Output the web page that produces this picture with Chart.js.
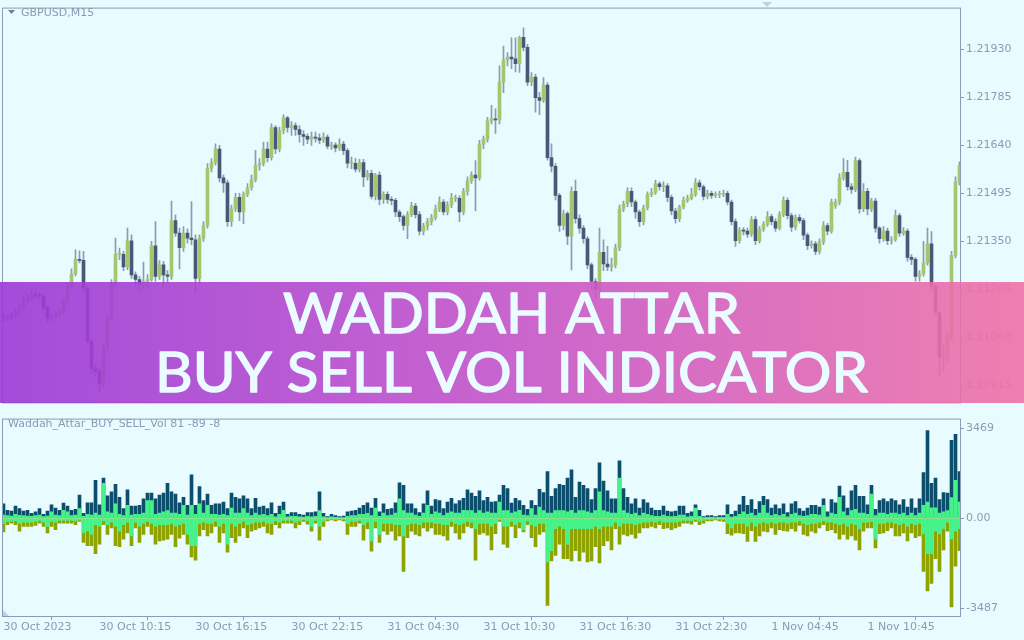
<!DOCTYPE html>
<html>
<head>
<meta charset="utf-8">
<script src="https://cdn.jsdelivr.net/npm/chart.js@4.4.1/dist/chart.umd.min.js"></script>
<style>
    html, body { margin: 0; padding: 0; width: 1024px; height: 640px; overflow: hidden; background: #e8fbff; }
    #priceChart { position: absolute; left: 0; top: 0; }
    #volChart { position: absolute; left: 0; top: 411px; }
</style>
</head>
<body>
<canvas id="priceChart" width="1024" height="411"></canvas>
<canvas id="volChart" width="1024" height="229"></canvas>
<script>
// GBPUSD M15 candles, 240 bars
const opens = [
1.21121,1.21118,1.21118,1.21127,1.21135,1.21150,1.21171,1.21179,1.21191,1.21188,
1.21185,1.21150,1.21118,1.21121,1.21127,1.21135,1.21171,1.21214,1.21252,1.21296,
1.21293,1.21209,1.21048,1.20966,1.20957,1.20922,1.21030,1.21118,1.21223,1.21311,
1.21311,1.21273,1.21352,1.21249,1.21235,1.21220,1.21229,1.21235,1.21337,1.21244,
1.21279,1.21249,1.21244,1.21413,1.21375,1.21331,1.21375,1.21360,1.21355,1.21238,
1.21360,1.21398,1.21571,1.21588,1.21629,1.21542,1.21527,1.21410,1.21448,1.21483,
1.21439,1.21492,1.21512,1.21536,1.21580,1.21586,1.21629,1.21603,1.21694,1.21629,
1.21685,1.21723,1.21694,1.21700,1.21688,1.21673,1.21667,1.21659,1.21665,1.21662,
1.21656,1.21665,1.21638,1.21641,1.21632,1.21644,1.21624,1.21586,1.21586,1.21568,
1.21588,1.21545,1.21556,1.21486,1.21550,1.21477,1.21492,1.21477,1.21474,1.21439,
1.21425,1.21398,1.21431,1.21457,1.21431,1.21381,1.21396,1.21410,1.21422,1.21448,
1.21469,1.21439,1.21460,1.21480,1.21480,1.21439,1.21501,1.21533,1.21550,1.21542,
1.21644,1.21659,1.21714,1.21720,1.21717,1.21831,1.21898,1.21907,1.21901,1.21887,
1.21966,1.21936,1.21831,1.21846,1.21784,1.21776,1.21822,1.21603,1.21577,1.21489,
1.21398,1.21434,1.21366,1.21501,1.21419,1.21390,1.21358,1.21279,1.21229,1.21206,
1.21317,1.21282,1.21273,1.21279,1.21331,1.21448,1.21463,1.21501,1.21469,1.21439,
1.21410,1.21451,1.21492,1.21498,1.21524,1.21515,1.21518,1.21483,1.21442,1.21419,
1.21454,1.21474,1.21480,1.21492,1.21527,1.21515,1.21486,1.21495,1.21489,1.21492,
1.21492,1.21495,1.21469,1.21410,1.21352,1.21384,1.21381,1.21372,1.21416,1.21352,
1.21387,1.21401,1.21425,1.21410,1.21390,1.21431,1.21474,1.21428,1.21393,1.21422,
1.21413,1.21369,1.21337,1.21343,1.21320,1.21349,1.21398,1.21381,1.21457,1.21469,
1.21542,1.21559,1.21515,1.21507,1.21594,1.21448,1.21501,1.21448,1.21472,1.21390,
1.21358,1.21381,1.21352,1.21355,1.21428,1.21375,1.21381,1.21302,1.21296,1.21244,
1.21252,1.21285,1.21343,1.21214,1.21135,1.21001,1.21001,1.21062,1.21308,1.21530];

const highs = [
1.21130,1.21127,1.21135,1.21144,1.21159,1.21182,1.21191,1.21203,1.21200,1.21197,
1.21191,1.21156,1.21133,1.21138,1.21147,1.21179,1.21226,1.21267,1.21325,1.21322,
1.21320,1.21215,1.21054,1.20975,1.20966,1.21040,1.21130,1.21235,1.21360,1.21330,
1.21320,1.21390,1.21370,1.21258,1.21245,1.21288,1.21250,1.21350,1.21410,1.21292,
1.21290,1.21262,1.21472,1.21430,1.21390,1.21395,1.21388,1.21470,1.21370,1.21370,
1.21410,1.21585,1.21600,1.21645,1.21640,1.21550,1.21535,1.21460,1.21495,1.21495,
1.21500,1.21525,1.21550,1.21625,1.21600,1.21650,1.21650,1.21705,1.21700,1.21695,
1.21732,1.21728,1.21712,1.21708,1.21700,1.21685,1.21675,1.21680,1.21680,1.21675,
1.21678,1.21672,1.21650,1.21648,1.21660,1.21652,1.21630,1.21605,1.21600,1.21598,
1.21598,1.21565,1.21565,1.21556,1.21560,1.21500,1.21500,1.21485,1.21480,1.21445,
1.21430,1.21440,1.21468,1.21465,1.21440,1.21405,1.21420,1.21432,1.21460,1.21485,
1.21476,1.21470,1.21495,1.21490,1.21488,1.21510,1.21545,1.21560,1.21594,1.21655,
1.21668,1.21725,1.21761,1.21750,1.21880,1.21940,1.21920,1.21965,1.21965,1.21970,
1.21995,1.21945,1.21860,1.21855,1.21800,1.21845,1.21830,1.21645,1.21585,1.21495,
1.21445,1.21440,1.21515,1.21535,1.21430,1.21398,1.21365,1.21285,1.21238,1.21390,
1.21355,1.21335,1.21300,1.21342,1.21460,1.21472,1.21512,1.21512,1.21475,1.21445,
1.21460,1.21500,1.21510,1.21535,1.21530,1.21530,1.21525,1.21490,1.21450,1.21460,
1.21485,1.21490,1.21510,1.21540,1.21535,1.21520,1.21505,1.21502,1.21500,1.21502,
1.21505,1.21502,1.21475,1.21418,1.21392,1.21392,1.21390,1.21425,1.21425,1.21395,
1.21410,1.21440,1.21432,1.21418,1.21440,1.21485,1.21482,1.21435,1.21430,1.21430,
1.21420,1.21375,1.21352,1.21350,1.21358,1.21410,1.21405,1.21478,1.21478,1.21555,
1.21600,1.21595,1.21525,1.21605,1.21600,1.21525,1.21510,1.21480,1.21480,1.21395,
1.21395,1.21390,1.21365,1.21445,1.21435,1.21392,1.21388,1.21310,1.21302,1.21262,
1.21350,1.21390,1.21380,1.21220,1.21140,1.21040,1.21075,1.21320,1.21545,1.21590];

const lows = [
1.21108,1.21109,1.21112,1.21121,1.21130,1.21144,1.21165,1.21173,1.21179,1.21176,
1.21141,1.21106,1.21109,1.21115,1.21121,1.21129,1.21165,1.21205,1.21246,1.21285,
1.21200,1.21036,1.20951,1.20940,1.20893,1.20910,1.21020,1.21110,1.21215,1.21295,
1.21262,1.21265,1.21238,1.21215,1.21200,1.21205,1.21212,1.21230,1.21230,1.21235,
1.21214,1.21225,1.21235,1.21365,1.21267,1.21320,1.21345,1.21340,1.21194,1.21225,
1.21350,1.21390,1.21560,1.21580,1.21530,1.21498,1.21395,1.21395,1.21440,1.21413,
1.21404,1.21485,1.21505,1.21530,1.21565,1.21578,1.21590,1.21595,1.21615,1.21620,
1.21675,1.21680,1.21670,1.21670,1.21650,1.21640,1.21645,1.21640,1.21650,1.21645,
1.21648,1.21630,1.21628,1.21620,1.21625,1.21612,1.21572,1.21570,1.21560,1.21560,
1.21515,1.21535,1.21478,1.21475,1.21460,1.21465,1.21465,1.21460,1.21425,1.21410,
1.21384,1.21358,1.21425,1.21420,1.21370,1.21370,1.21385,1.21400,1.21415,1.21440,
1.21430,1.21430,1.21452,1.21470,1.21410,1.21430,1.21490,1.21525,1.21442,1.21535,
1.21630,1.21650,1.21705,1.21676,1.21705,1.21799,1.21880,1.21872,1.21862,1.21860,
1.21925,1.21820,1.21820,1.21740,1.21733,1.21770,1.21595,1.21560,1.21475,1.21380,
1.21385,1.21340,1.21264,1.21405,1.21375,1.21345,1.21268,1.21205,1.21180,1.21195,
1.21262,1.21262,1.21260,1.21270,1.21322,1.21440,1.21455,1.21455,1.21420,1.21395,
1.21400,1.21445,1.21485,1.21492,1.21505,1.21500,1.21470,1.21430,1.21405,1.21410,
1.21448,1.21468,1.21475,1.21486,1.21505,1.21475,1.21478,1.21480,1.21482,1.21482,
1.21485,1.21460,1.21400,1.21335,1.21345,1.21370,1.21362,1.21365,1.21340,1.21345,
1.21380,1.21395,1.21400,1.21380,1.21385,1.21425,1.21418,1.21380,1.21385,1.21405,
1.21355,1.21325,1.21330,1.21310,1.21312,1.21340,1.21370,1.21375,1.21450,1.21460,
1.21535,1.21505,1.21495,1.21500,1.21435,1.21440,1.21430,1.21440,1.21378,1.21345,
1.21350,1.21340,1.21342,1.21350,1.21365,1.21368,1.21290,1.21280,1.21230,1.21230,
1.21245,1.21278,1.21205,1.21125,1.20943,1.20960,1.20985,1.21050,1.21300,1.21520];

const closes = [
1.21118,1.21118,1.21127,1.21135,1.21150,1.21171,1.21179,1.21191,1.21188,1.21185,
1.21150,1.21118,1.21121,1.21127,1.21135,1.21171,1.21214,1.21252,1.21296,1.21293,
1.21209,1.21048,1.20966,1.20957,1.20922,1.21030,1.21118,1.21223,1.21311,1.21311,
1.21273,1.21352,1.21249,1.21235,1.21220,1.21229,1.21235,1.21337,1.21244,1.21279,
1.21249,1.21244,1.21413,1.21375,1.21331,1.21375,1.21360,1.21355,1.21238,1.21360,
1.21398,1.21571,1.21588,1.21629,1.21542,1.21527,1.21410,1.21448,1.21483,1.21439,
1.21492,1.21512,1.21536,1.21580,1.21586,1.21629,1.21603,1.21694,1.21629,1.21685,
1.21723,1.21694,1.21700,1.21688,1.21673,1.21667,1.21659,1.21665,1.21662,1.21656,
1.21665,1.21638,1.21641,1.21632,1.21644,1.21624,1.21586,1.21586,1.21568,1.21588,
1.21545,1.21556,1.21486,1.21550,1.21477,1.21492,1.21477,1.21474,1.21439,1.21425,
1.21398,1.21431,1.21457,1.21431,1.21381,1.21396,1.21410,1.21422,1.21448,1.21469,
1.21439,1.21460,1.21480,1.21480,1.21439,1.21501,1.21533,1.21550,1.21542,1.21644,
1.21659,1.21714,1.21720,1.21717,1.21831,1.21898,1.21907,1.21901,1.21887,1.21966,
1.21936,1.21831,1.21846,1.21784,1.21776,1.21822,1.21603,1.21577,1.21489,1.21398,
1.21434,1.21366,1.21501,1.21419,1.21390,1.21358,1.21279,1.21229,1.21206,1.21317,
1.21282,1.21273,1.21279,1.21331,1.21448,1.21463,1.21501,1.21469,1.21439,1.21410,
1.21451,1.21492,1.21498,1.21524,1.21515,1.21518,1.21483,1.21442,1.21419,1.21454,
1.21474,1.21480,1.21492,1.21527,1.21515,1.21486,1.21495,1.21489,1.21492,1.21492,
1.21495,1.21469,1.21410,1.21352,1.21384,1.21381,1.21372,1.21416,1.21352,1.21387,
1.21401,1.21425,1.21410,1.21390,1.21431,1.21474,1.21428,1.21393,1.21422,1.21413,
1.21369,1.21337,1.21343,1.21320,1.21349,1.21398,1.21381,1.21469,1.21469,1.21542,
1.21559,1.21515,1.21507,1.21594,1.21448,1.21501,1.21448,1.21472,1.21390,1.21358,
1.21381,1.21352,1.21355,1.21428,1.21375,1.21381,1.21302,1.21296,1.21244,1.21252,
1.21285,1.21343,1.21214,1.21135,1.21001,1.21001,1.21062,1.21308,1.21530,1.21580];

// Waddah_Attar_BUY_SELL_Vol buffers
const buyVol = [
561,312,274,474,374,274,312,187,249,374,
150,274,524,399,312,586,474,312,349,898,
187,599,599,1471,524,1559,873,1023,1309,811,
374,1097,474,474,499,748,973,973,748,898,
973,1347,1023,935,599,811,499,1683,499,1222,
686,935,499,561,561,624,374,973,811,748,
873,748,374,773,436,474,374,599,187,474,
624,150,224,224,150,125,224,224,249,1023,
187,62,150,100,62,87,249,274,312,399,
499,599,399,773,249,561,349,374,599,1372,
1272,561,561,374,224,561,1060,474,723,686,
374,624,773,561,686,773,1097,973,848,1060,
686,811,624,648,898,1272,1147,586,773,686,
499,349,686,499,1122,998,1808,848,1147,1309,
1272,1559,1871,811,1397,1272,1147,723,1147,2145,
1434,1060,748,748,2220,1147,811,561,748,399,
723,599,399,312,312,474,274,249,274,474,
474,187,249,524,312,62,100,100,62,100,
100,524,150,274,524,848,499,723,349,648,
848,723,399,524,374,561,224,561,648,374,
274,399,499,499,436,748,249,723,599,1247,
873,399,1060,1272,848,848,524,1272,349,686,
748,648,748,686,524,723,436,748,399,748,
1771,3392,1347,1559,723,998,973,3018,3242,1808];

const sellVol = [
-524,-249,-187,-249,-499,-312,-312,-312,-274,-187,
-312,-561,-312,-436,-187,-187,-187,-187,-249,-125,
-935,-1060,-1060,-1372,-998,-249,-624,-374,-1060,-1097,
-811,-561,-1060,-374,-935,-624,-312,-624,-998,-873,
-848,-811,-624,-1097,-773,-624,-998,-1496,-1621,-686,
-436,-686,-561,-312,-935,-561,-1309,-748,-935,-686,
-374,-748,-499,-436,-374,-312,-561,-624,-249,-374,
-187,-187,-187,-374,-249,-125,-224,-499,-187,-848,
-312,-100,-62,-100,-62,-100,-624,-312,-312,-187,
-848,-399,-1272,-374,-935,-499,-624,-499,-848,-686,
-2058,-748,-499,-624,-686,-374,-499,-374,-624,-624,
-686,-848,-312,-561,-811,-561,-312,-374,-1621,-624,
-561,-648,-1222,-599,-125,-998,-1122,-312,-748,-374,
-524,-249,-748,-1097,-624,-524,-3367,-1646,-1434,-998,
-1559,-1559,-1646,-1247,-1646,-1309,-1683,-1646,-1097,-1721,
-1060,-873,-1222,-399,-998,-624,-686,-624,-773,-561,
-374,-374,-312,-374,-249,-399,-374,-436,-374,-312,
-187,-187,-224,-125,-249,-187,-100,-100,-62,-100,
-125,-599,-648,-561,-561,-599,-898,-474,-898,-686,
-499,-524,-374,-624,-436,-474,-499,-399,-499,-274,
-624,-686,-499,-561,-374,-249,-474,-436,-561,-811,
-624,-811,-686,-848,-1222,-499,-374,-374,-1147,-599,
-561,-474,-374,-686,-686,-561,-873,-561,-748,-686,
-2058,-2806,-2519,-1559,-2058,-1222,-499,-3429,-1846,-1247];

const greenUp = [
120,100,90,150,110,100,90,80,100,125,
70,90,249,120,100,312,249,100,120,374,
80,150,120,200,120,1347,249,200,561,150,
100,499,120,150,150,200,686,686,150,200,
250,300,200,200,150,499,120,499,150,561,
200,499,150,150,120,150,100,399,200,200,
374,200,100,200,120,150,100,150,60,150,
312,60,80,80,60,50,80,60,80,300,
60,30,60,40,30,30,80,100,100,150,
150,187,100,399,80,200,100,120,200,748,
300,200,200,120,80,200,499,150,250,200,
100,200,250,200,200,312,300,300,200,300,
200,250,200,200,624,300,300,200,250,312,
120,100,374,120,436,300,200,200,300,300,
300,249,312,200,300,300,250,200,300,1023,
300,250,200,200,1559,300,200,150,200,100,
200,150,100,80,80,120,80,70,80,120,
125,60,80,399,80,30,40,40,30,40,
40,150,50,80,150,250,150,200,100,200,
499,200,100,150,100,150,60,150,200,100,
80,100,150,150,120,499,60,200,150,811,
250,100,300,350,200,200,150,935,100,200,
200,150,200,200,150,200,100,200,100,200,
500,624,400,400,200,250,300,800,1471,624];

const greenDown = [
-200,-120,-100,-100,-200,-150,-150,-150,-120,-80,
-150,-312,-120,-150,-80,-80,-80,-80,-100,-60,
-561,-499,-624,-249,-300,-100,-250,-150,-300,-499,
-250,-150,-686,-150,-300,-200,-120,-200,-300,-250,
-250,-250,-200,-300,-250,-200,-624,-1060,-1060,-200,
-150,-200,-200,-120,-300,-200,-998,-200,-300,-200,
-120,-250,-200,-150,-150,-120,-200,-200,-100,-150,
-80,-80,-80,-150,-100,-50,-100,-312,-80,-300,
-120,-40,-30,-40,-30,-40,-200,-120,-120,-80,
-250,-150,-873,-120,-624,-200,-200,-200,-250,-249,
-686,-250,-200,-200,-250,-150,-150,-150,-200,-200,
-250,-250,-120,-200,-250,-200,-120,-150,-400,-200,
-200,-200,-300,-200,-50,-300,-300,-120,-250,-150,
-436,-100,-250,-300,-200,-200,-1683,-1247,-400,-300,
-400,-998,-400,-400,-400,-400,-400,-400,-300,-400,
-300,-300,-300,-150,-300,-200,-200,-200,-250,-200,
-150,-150,-120,-150,-100,-150,-150,-150,-150,-120,
-80,-80,-90,-50,-100,-80,-40,-40,-30,-40,
-50,-200,-374,-200,-200,-200,-300,-150,-300,-200,
-150,-200,-150,-200,-150,-150,-200,-150,-150,-100,
-200,-250,-200,-200,-150,-100,-150,-150,-200,-250,
-200,-300,-200,-250,-400,-150,-150,-120,-811,-200,
-200,-150,-150,-200,-250,-200,-300,-200,-250,-200,
-600,-1372,-1372,-500,-600,-400,-150,-800,-500,-400];

const priceTicks = [1.20915, 1.21060, 1.21205, 1.21350, 1.21495, 1.21640, 1.21785, 1.21930];
const volTicks = [-3487, 0, 3469];
const timeTickIdx = [0, 24, 48, 72, 96, 120, 144, 168, 192, 216];
const timeTickLabels = ['30 Oct 2023', '30 Oct 10:15', '30 Oct 16:15', '30 Oct 22:15', '31 Oct 04:30',
    '31 Oct 10:30', '31 Oct 16:30', '31 Oct 22:30', '1 Nov 04:45', '1 Nov 10:45'];

const AXIS_COLOR = '#8b9bb5';
const BULL_COLOR = '#a3c66f';
const BEAR_COLOR = '#4a5878';
const WICK_COLOR = '#8e9ab0';
const BUY_COLOR = '#0c4f6d';
const SELL_COLOR = '#8ea300';
const NET_COLOR = '#47f18a';

/**
 * @description Setup global charts configurations.
 */
function SetupGlobalChartConfig()
{
    let defaults = Chart.defaults;
    defaults.responsive = false;
    defaults.animation = false;
    defaults.font.family = 'DejaVu Sans';
    defaults.font.size = 11;
    defaults.color = AXIS_COLOR;
    defaults.plugins.legend.display = false;
    defaults.plugins.tooltip.enabled = false;
}

/**
 * @description Draw the window frame around a chart area.
 */
const framePlugin =
{
    id: 'frame',
    afterDraw(chart)
    {
        const {ctx, chartArea} = chart;
        ctx.save();
        ctx.strokeStyle = AXIS_COLOR;
        ctx.lineWidth = 1;
        ctx.strokeRect(chartArea.left - 0.5, chartArea.top - 0.5,
            chartArea.right - chartArea.left + 1, chartArea.bottom - chartArea.top + 1);
        ctx.restore();
    }
};

/**
 * @description Symbol caption and small markers of the main window.
 */
const priceCaptionPlugin =
{
    id: 'priceCaption',
    afterDraw(chart)
    {
        const ctx = chart.ctx;
        ctx.save();
        ctx.fillStyle = '#6f7f99';
        ctx.beginPath();
        ctx.moveTo(8, 10); ctx.lineTo(15, 10); ctx.lineTo(11.5, 14);
        ctx.closePath();
        ctx.fill();
        ctx.fillStyle = '#c5cde4';
        ctx.beginPath();
        ctx.moveTo(762, 2); ctx.lineTo(772, 2); ctx.lineTo(767, 7);
        ctx.closePath();
        ctx.fill();
        ctx.fillStyle = AXIS_COLOR;
        ctx.font = '11px "DejaVu Sans"';
        ctx.textBaseline = 'middle';
        ctx.fillText('GBPUSD,M15', 21, 13);
        ctx.restore();
    }
};

/**
 * @description Draw one banner line fitted to a given width.
 */
function DrawFittedText(ctx, text, centerX, baseline, width)
{
    const measured = ctx.measureText(text).width;
    ctx.save();
    ctx.translate(centerX, baseline);
    ctx.scale(width / measured, 1);
    ctx.fillText(text, 0, 0);
    ctx.strokeText(text, 0, 0);
    ctx.restore();
}

/**
 * @description Gradient title banner over the price window.
 */
const bannerPlugin =
{
    id: 'banner',
    afterDraw(chart)
    {
        const ctx = chart.ctx;
        ctx.save();
        const grad = ctx.createLinearGradient(0, 0, 1024, 0);
        grad.addColorStop(0, 'rgba(155,57,215,0.9)');
        grad.addColorStop(0.5, 'rgba(198,84,200,0.9)');
        grad.addColorStop(1, 'rgba(240,113,167,0.9)');
        ctx.fillStyle = grad;
        ctx.fillRect(0, 282, 1024, 121);
        ctx.fillStyle = '#eafcff';
        ctx.strokeStyle = '#eafcff';
        ctx.lineWidth = 1.4;
        ctx.lineJoin = 'round';
        ctx.font = '56px Lato';
        ctx.textAlign = 'center';
        ctx.textBaseline = 'alphabetic';
        DrawFittedText(ctx, 'WADDAH ATTAR', 511.5, 333, 457);
        DrawFittedText(ctx, 'BUY SELL VOL INDICATOR', 511.5, 392, 713);
        ctx.restore();
    }
};

/**
 * @description Indicator caption and corner marker.
 */
const volCaptionPlugin =
{
    id: 'volCaption',
    afterDraw(chart)
    {
        const ctx = chart.ctx;
        ctx.save();
        ctx.fillStyle = AXIS_COLOR;
        ctx.font = '11px "DejaVu Sans"';
        ctx.textBaseline = 'middle';
        ctx.fillText('Waddah_Attar_BUY_SELL_Vol 81 -89 -8', 8, 13);
        ctx.fillStyle = '#c5cde4';
        ctx.beginPath();
        ctx.moveTo(3, 199); ctx.lineTo(3, 205); ctx.lineTo(9, 205);
        ctx.closePath();
        ctx.fill();
        ctx.restore();
    }
};

/**
 * @description Create the candlestick chart from the OHLC arrays.
 */
function CreatePriceChart()
{
    const ctx = document.getElementById('priceChart');
    const bodyColors = closes.map((c, i) => c >= opens[i] ? BULL_COLOR : BEAR_COLOR);
    new Chart(ctx,
        {
            type: 'bar',
            data:
                {
                    datasets:
                        [
                            {
                                data: closes.map((c, i) => ({x: i, y: [opens[i], c]})),
                                backgroundColor: bodyColors,
                                barThickness: 3,
                                minBarLength: 1,
                                order: 0
                            },
                            {
                                data: closes.map((c, i) => ({x: i, y: [lows[i], highs[i]]})),
                                backgroundColor: WICK_COLOR,
                                barThickness: 1,
                                order: 1
                            }
                        ]
                },
            options:
                {
                    layout: { padding: { left: 3, top: 3, right: 0, bottom: 1 } },
                    datasets: { bar: { grouped: false, borderWidth: 0 } },
                    scales:
                        {
                            x:
                                {
                                    type: 'linear',
                                    display: false,
                                    offset: false,
                                    min: -0.125,
                                    max: 239.125
                                },
                            y:
                                {
                                    position: 'right',
                                    min: 1.20864,
                                    max: 1.22053,
                                    afterFit: scale => { scale.width = 64; },
                                    afterBuildTicks: scale => { scale.ticks = priceTicks.map(v => ({value: v})); },
                                    border: { display: false },
                                    grid:
                                        {
                                            drawOnChartArea: false,
                                            tickLength: 4,
                                            tickColor: AXIS_COLOR
                                        },
                                    ticks:
                                        {
                                            autoSkip: false,
                                            padding: 2,
                                            color: AXIS_COLOR,
                                            callback: value => value.toFixed(5)
                                        }
                                }
                        }
                },
            plugins: [framePlugin, priceCaptionPlugin, bannerPlugin]
        });
}

/**
 * @description Create the buy / sell volume histogram.
 */
function CreateVolumeChart()
{
    const ctx = document.getElementById('volChart');
    const toPoints = arr => arr.map((v, i) => ({x: i, y: v}));
    new Chart(ctx,
        {
            type: 'bar',
            data:
                {
                    datasets:
                        [
                            { data: toPoints(greenUp), backgroundColor: NET_COLOR, order: 0 },
                            { data: toPoints(greenDown), backgroundColor: NET_COLOR, order: 0 },
                            { data: toPoints(buyVol), backgroundColor: BUY_COLOR, order: 1 },
                            { data: toPoints(sellVol), backgroundColor: SELL_COLOR, order: 1 }
                        ]
                },
            options:
                {
                    layout: { padding: { left: 3, top: 2, right: 0, bottom: 0 } },
                    datasets: { bar: { grouped: false, borderWidth: 0, barThickness: 3 } },
                    scales:
                        {
                            x:
                                {
                                    type: 'linear',
                                    offset: false,
                                    min: -0.125,
                                    max: 239.125,
                                    afterFit: scale => { scale.height = 24; },
                                    afterBuildTicks: scale => { scale.ticks = timeTickIdx.map(v => ({value: v})); },
                                    border: { display: false },
                                    grid:
                                        {
                                            drawOnChartArea: false,
                                            tickLength: 4,
                                            tickColor: AXIS_COLOR
                                        },
                                    ticks:
                                        {
                                            autoSkip: false,
                                            maxRotation: 0,
                                            align: 'start',
                                            padding: 1,
                                            color: AXIS_COLOR,
                                            callback: (value, index) => timeTickLabels[index]
                                        }
                                },
                            y:
                                {
                                    position: 'right',
                                    min: -3777,
                                    max: 3815,
                                    afterFit: scale => { scale.width = 64; },
                                    afterBuildTicks: scale => { scale.ticks = volTicks.map(v => ({value: v})); },
                                    border: { display: false },
                                    grid:
                                        {
                                            drawOnChartArea: false,
                                            tickLength: 4,
                                            tickColor: AXIS_COLOR
                                        },
                                    ticks:
                                        {
                                            autoSkip: false,
                                            padding: 2,
                                            color: AXIS_COLOR,
                                            callback: value => value === 0 ? '0.00' : String(value)
                                        }
                                }
                        }
                },
            plugins: [framePlugin, volCaptionPlugin]
        });
}

SetupGlobalChartConfig();
CreatePriceChart();
CreateVolumeChart();
</script>
</body>
</html>
